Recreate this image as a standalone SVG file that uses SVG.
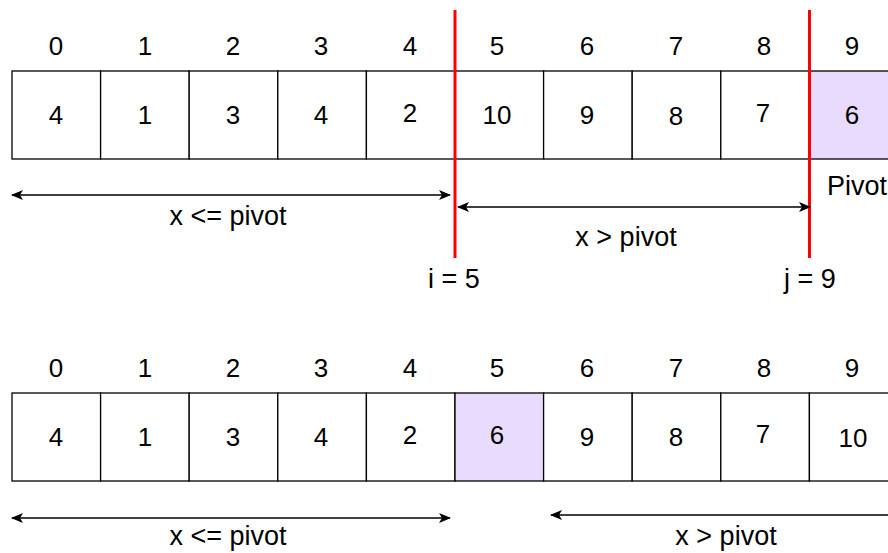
<svg xmlns="http://www.w3.org/2000/svg" width="888" height="553" viewBox="0 0 888 553">
<style>
text{font-family:"Liberation Sans",Arial,sans-serif;font-size:26px;fill:#000;text-anchor:middle}
.lbl{font-size:27px}
.cell{fill:#fff;stroke:#000;stroke-width:1.3}
.piv{fill:#e8dbfd;stroke:#000;stroke-width:1.3}
.red{stroke:#ff0000;stroke-width:3;fill:none}
.arr{stroke:#000;stroke-width:1.3;fill:none}
</style>
<defs>
<marker id="ah" viewBox="0 0 12 10" refX="11" refY="5" markerWidth="12" markerHeight="10" markerUnits="userSpaceOnUse" orient="auto-start-reverse">
<path d="M0,0 L12,5 L0,10 L3,5 Z" fill="#000"/>
</marker>
</defs>
<g id="row1">
<g id="r1c0"><rect class="cell" x="12" y="71" width="88.6" height="88"/><text x="56" y="55">0</text><text x="56" y="124">4</text></g>
<g id="r1c1"><rect class="cell" x="100.6" y="71" width="88.6" height="88"/><text x="145" y="55">1</text><text x="145" y="124">1</text></g>
<g id="r1c2"><rect class="cell" x="189.2" y="71" width="88.6" height="88"/><text x="233" y="55">2</text><text x="233" y="124">3</text></g>
<g id="r1c3"><rect class="cell" x="277.8" y="71" width="88.6" height="88"/><text x="321" y="55">3</text><text x="321" y="124">4</text></g>
<g id="r1c4"><rect class="cell" x="366.4" y="71" width="88.6" height="88"/><text x="410" y="55">4</text><text x="410" y="122">2</text></g>
<g id="r1c5"><rect class="cell" x="455" y="71" width="88.6" height="88"/><text x="497" y="55">5</text><text x="497" y="124">10</text></g>
<g id="r1c6"><rect class="cell" x="543.6" y="71" width="88.6" height="88"/><text x="587" y="55">6</text><text x="587" y="124">9</text></g>
<g id="r1c7"><rect class="cell" x="632.2" y="71" width="88.6" height="88"/><text x="676" y="55">7</text><text x="676" y="125">8</text></g>
<g id="r1c8"><rect class="cell" x="720.8" y="71" width="88.6" height="88"/><text x="764" y="55">8</text><text x="763" y="122">7</text></g>
<g id="r1c9"><rect class="piv" x="809.4" y="71" width="88.6" height="88"/><text x="852" y="55">9</text><text x="852" y="124">6</text></g>
</g>
<g id="row2">
<g id="r2c0"><rect class="cell" x="12" y="393" width="88.6" height="88"/><text x="56" y="377">0</text><text x="56" y="446">4</text></g>
<g id="r2c1"><rect class="cell" x="100.6" y="393" width="88.6" height="88"/><text x="145" y="377">1</text><text x="145" y="446">1</text></g>
<g id="r2c2"><rect class="cell" x="189.2" y="393" width="88.6" height="88"/><text x="233" y="377">2</text><text x="233" y="446">3</text></g>
<g id="r2c3"><rect class="cell" x="277.8" y="393" width="88.6" height="88"/><text x="321" y="377">3</text><text x="321" y="446">4</text></g>
<g id="r2c4"><rect class="cell" x="366.4" y="393" width="88.6" height="88"/><text x="410" y="377">4</text><text x="410" y="444">2</text></g>
<g id="r2c5"><rect class="piv" x="455" y="393" width="88.6" height="88"/><text x="497" y="377">5</text><text x="497" y="444">6</text></g>
<g id="r2c6"><rect class="cell" x="543.6" y="393" width="88.6" height="88"/><text x="587" y="377">6</text><text x="587" y="446">9</text></g>
<g id="r2c7"><rect class="cell" x="632.2" y="393" width="88.6" height="88"/><text x="676" y="377">7</text><text x="676" y="446">8</text></g>
<g id="r2c8"><rect class="cell" x="720.8" y="393" width="88.6" height="88"/><text x="764" y="377">8</text><text x="763" y="443">7</text></g>
<g id="r2c9"><rect class="cell" x="809.4" y="393" width="88.6" height="88"/><text x="852" y="377">9</text><text x="853" y="447">10</text></g>
</g>
<g id="connectors">
<line class="red" x1="455" y1="10" x2="455" y2="258"/>
<line class="red" x1="809.5" y1="10" x2="809.5" y2="258"/>
<line class="arr" x1="12" y1="195" x2="450" y2="195" marker-start="url(#ah)" marker-end="url(#ah)"/>
<line class="arr" x1="458" y1="207" x2="810" y2="207" marker-start="url(#ah)" marker-end="url(#ah)"/>
<line class="arr" x1="12" y1="518" x2="450" y2="518" marker-start="url(#ah)" marker-end="url(#ah)"/>
<line class="arr" x1="551" y1="515" x2="900" y2="515" marker-start="url(#ah)"/>
</g>
<g id="labels">
<text class="lbl" x="228" y="225">x &lt;= pivot</text>
<text class="lbl" x="626" y="246">x &gt; pivot</text>
<text class="lbl" x="454" y="288">i = 5</text>
<text class="lbl" x="810" y="288">j = 9</text>
<text class="lbl" x="827" y="195" style="text-anchor:start">Pivot</text>
<text class="lbl" x="228" y="545">x &lt;= pivot</text>
<text class="lbl" x="726" y="545">x &gt; pivot</text>
</g>
</svg>
